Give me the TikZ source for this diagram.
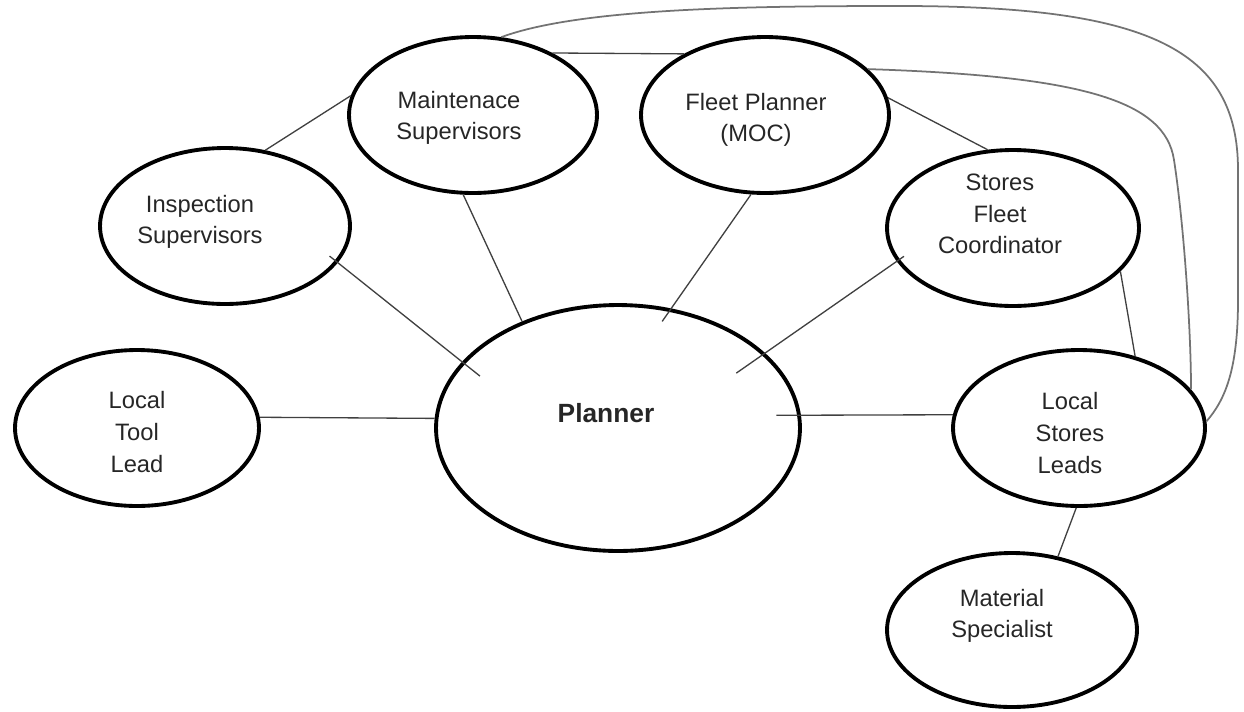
\documentclass[tikz,border=0pt]{standalone}
\usepackage{fontspec}
\setmainfont{Liberation Sans}
\usetikzlibrary{shapes.geometric}

\begin{document}
\begin{tikzpicture}[x=0.02cm,y=-0.02cm,
  font=\fontsize{13.5}{18}\selectfont,
  role/.style={draw,ellipse,line width=2.2pt,inner sep=0pt,minimum width=5cm,minimum height=3.12cm},
  txt/.style={align=center,text=black!85,anchor=center},
  link/.style={draw=black!75,line width=0.75pt},
  loop/.style={draw=black!55,line width=1pt}]
  \useasboundingbox (0,0) rectangle (1244,711);
  % roles round the planner
  \node[role,label={[txt,xshift=-0.5cm,yshift=0.08cm]center:Inspection\\Supervisors}] (insp) at (225,226) {};
  \node[role,minimum width=4.96cm,label={[txt,xshift=-0.28cm,yshift=-0.06cm]center:Maintenace\\Supervisors}] (maint) at (473,115) {};
  \node[role,minimum width=4.96cm,label={[txt,xshift=-0.18cm,yshift=-0.1cm]center:Fleet Planner\\(MOC)}] (fleet) at (765,115) {};
  \node[role,minimum width=5.04cm,label={[txt,xshift=-0.26cm,yshift=0.28cm]center:Stores\\Fleet\\Coordinator}] (coord) at (1013,228) {};
  \node[role,minimum width=4.88cm,label={[txt,yshift=-0.08cm]center:Local\\Tool\\Lead}] (tool) at (137,428) {};
  \node[role,minimum width=7.28cm,minimum height=4.92cm,label={[txt,font=\fontsize{15}{18}\selectfont\bfseries,xshift=-0.24cm,yshift=0.3cm]center:Planner}] (planner) at (618,428) {};
  \node[role,minimum width=5.04cm,label={[txt,xshift=-0.18cm,yshift=-0.1cm]center:Local\\Stores\\Leads}] (lsl) at (1079,428) {};
  \node[role,minimum height=3.08cm,label={[txt,xshift=-0.2cm,yshift=0.28cm]center:Material\\Specialist}] (mat) at (1012,630) {};
  % links
  \draw[link] (insp.62) -- (maint.171);
  \draw[link] (maint.-97) -- (planner.132);
  \draw[link,shorten <=-6pt,shorten >=-13pt] (insp.-18) -- (planner.157);
  \draw[link,shorten >=-9pt] (fleet.-100) -- (planner.66);
  \draw[link,shorten <=-5pt,shorten >=-20pt] (coord.196) -- (planner.27);
  \draw[link] (fleet.8) -- (coord.108);
  \draw[link] (maint.38) -- (fleet.143);
  \draw[link] (coord.-22) -- (lsl.52);
  \draw[link,shorten <=-14pt] (planner.4) -- (lsl.174);
  \draw[link] (tool.5) -- (planner.177);
  \draw[link] (lsl.-92) -- (mat.58);
  % long links over the top
  \draw[loop] (maint.70) .. controls (580,8) and (750,6) .. (900,6)
    .. controls (1150,6) and (1238,50) .. (1238,170) -- (1238,300)
    .. controls (1238,370) and (1225,400) .. (lsl.3);
  \draw[loop] (fleet.24) .. controls (1080,76) and (1165,100) .. (1174,160)
    .. controls (1184,225) and (1191,330) .. (lsl.19);
\end{tikzpicture}
\end{document}
